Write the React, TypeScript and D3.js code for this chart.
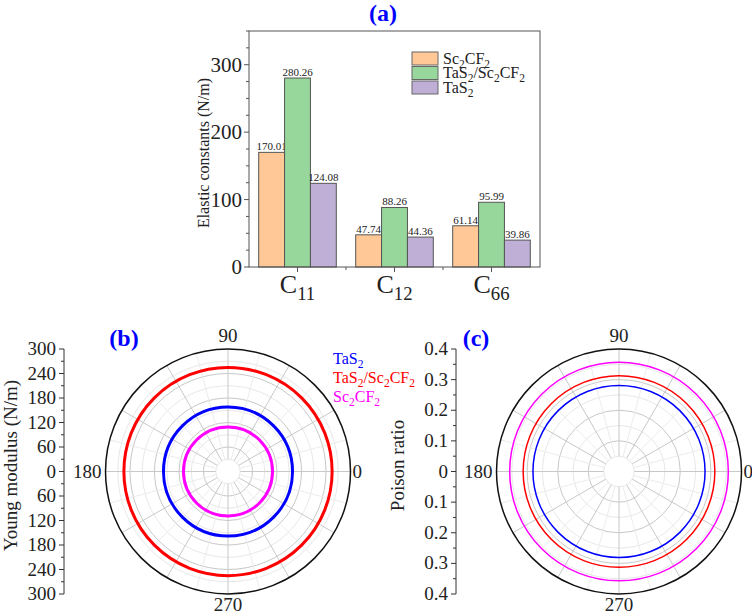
import React from 'react';
import * as d3 from 'd3';

// elastic constants (N/m)
const categories = ['C11', 'C12', 'C66'];
const seriesNames = ['Sc2CF2', 'TaS2/Sc2CF2', 'TaS2'];
const sc2cf2Vals = [170.01, 47.74, 61.14];
const heteroVals = [280.26, 88.26, 95.99];
const tas2Vals = [124.08, 44.36, 39.86];
const barColors = ['#FFC896', '#98D79B', '#BFAFD6'];

// polar panels
const polarNames = ['TaS2', 'TaS2/Sc2CF2', 'Sc2CF2'];
const polarColors = ['#0000ff', '#ff0000', '#ff00ff'];
const youngVals = [158, 255, 109];
const poissonVals = [0.281, 0.313, 0.357];
const youngTicks = [300, 240, 180, 120, 60, 0, 60, 120, 180, 240, 300];
const poissonTicks = ['0.4', '0.3', '0.2', '0.1', '0', '0.1', '0.2', '0.3', '0.4'];
const angleLabels = ['0', '90', '180', '270'];

const font = "'Liberation Serif', 'Times New Roman', serif";
const blue = '#0000ff';

// digits drawn as subscripts
function sub(s: string, fs: number) {
  const parts = s.split(/(\d+)/).filter((p) => p !== '');
  let low = false;
  return parts.map((p, i) => {
    const isNum = /^\d+$/.test(p);
    let dy = 0;
    if (isNum && !low) { dy = fs * 0.28; low = true; }
    else if (!isNum && low) { dy = -fs * 0.28; low = false; }
    return (
      <tspan key={i} dy={dy} fontSize={isNum ? fs * 0.72 : fs}>
        {p}
      </tspan>
    );
  });
}

function BarPanel() {
  const left = 249, right = 540, top = 31, bottom = 267;
  const x0 = d3.scaleBand().domain(categories).range([left, right]).paddingInner(0.2).paddingOuter(0.1);
  const x1 = d3.scaleBand().domain(seriesNames).range([0, x0.bandwidth()]);
  const y = d3.scaleLinear().domain([0, 350]).range([bottom, top]);
  const table = [sc2cf2Vals, heteroVals, tas2Vals];
  const step = x0.step();
  return (
    <g fontFamily={font}>
      <text x={383} y={21} textAnchor="middle" fontSize={24} fontWeight="bold" fill={blue}>(a)</text>
      {table.map((vals, si) =>
        categories.map((c, ci) => (
          <g key={c + si}>
            <rect
              x={(x0(c) as number) + (x1(seriesNames[si]) as number)}
              y={y(vals[ci])}
              width={x1.bandwidth()}
              height={bottom - y(vals[ci])}
              fill={barColors[si]}
              stroke="#555"
              strokeWidth={1}
            />
            <text
              x={(x0(c) as number) + (x1(seriesNames[si]) as number) + x1.bandwidth() / 2}
              y={y(vals[ci]) - 2}
              textAnchor="middle"
              fontSize={11}
              fill="#222"
            >
              {vals[ci].toFixed(2)}
            </text>
          </g>
        ))
      )}
      <rect x={left} y={top} width={right - left} height={bottom - top} fill="none" stroke="#555" strokeWidth={1} />
      {d3.range(0, 351, 25).map((v) => (
        <line key={v} x1={left} x2={left - (v % 100 === 0 ? 5 : 3)} y1={y(v)} y2={y(v)} stroke="#555" />
      ))}
      {[0, 100, 200, 300].map((v) => (
        <text key={v} x={left - 7} y={y(v) + 7} textAnchor="end" fontSize={21} fill="#222">{v}</text>
      ))}
      {categories.map((c) => {
        const cx = (x0(c) as number) + x0.bandwidth() / 2;
        return (
          <g key={c}>
            <line x1={cx} x2={cx} y1={bottom} y2={bottom + 5} stroke="#555" />
            <text x={cx} y={293} textAnchor="middle" fontSize={26} fill="#222">{sub(c, 26)}</text>
          </g>
        );
      })}
      {[1, 2].map((i) => (
        <line key={i} x1={left + step * i} x2={left + step * i} y1={bottom} y2={bottom + 3} stroke="#555" />
      ))}
      <text transform={`translate(209,${(top + bottom) / 2 + 4}) rotate(-90)`} textAnchor="middle" fontSize={16} fill="#222">
        Elastic constants (N/m)
      </text>
      {seriesNames.map((n, i) => (
        <g key={n}>
          <rect x={412} y={52 + i * 14.5} width={26} height={13} fill={barColors[i]} stroke="#666" />
          <text x={443} y={63.5 + i * 14.5} fontSize={16} fill="#222">{sub(n, 16)}</text>
        </g>
      ))}
    </g>
  );
}

function PolarPanel(props: {
  cx: number; cy: number; R: number; max: number; major: number;
  vals: number[]; width: number; axisX: number; ticks: (string | number)[];
  ylabel: string; labelX: number; tag: string; tagX: number; legend: boolean;
}) {
  const { cx, cy, R, max, major, vals, width, axisX, ticks, ylabel, labelX, tag, tagX, legend } = props;
  const r = d3.scaleLinear().domain([0, max]).range([0, R]);
  const half = major / 2;
  const rings = d3.range(1, Math.round(max / half)).map((k) => k * half);
  const ay = d3.scaleLinear().domain([-max, max]).range([cy + R, cy - R]);
  const minorTicks = d3.range(-max, max + half / 2, half);
  const spokes = d3.range(0, 360, 15);
  return (
    <g fontFamily={font}>
      <text x={tagX} y={346} textAnchor="middle" fontSize={24} fontWeight="bold" fill={blue}>{tag}</text>
      {rings.map((v, i) => (
        <circle key={v} cx={cx} cy={cy} r={r(v)} fill="none" stroke={i % 2 === 1 ? '#c8c8c8' : '#e8e8e8'} strokeWidth={1} />
      ))}
      {spokes.map((a) => {
        const t = (a * Math.PI) / 180;
        const r0 = r(half);
        return (
          <line
            key={a}
            x1={cx + r0 * Math.cos(t)} y1={cy - r0 * Math.sin(t)}
            x2={cx + R * Math.cos(t)} y2={cy - R * Math.sin(t)}
            stroke={a % 30 === 0 ? '#c8c8c8' : '#ececec'}
            strokeWidth={1}
          />
        );
      })}
      {vals.map((v, i) => (
        <circle key={i} cx={cx} cy={cy} r={r(v)} fill="none" stroke={polarColors[i]} strokeWidth={width} />
      ))}
      <circle cx={cx} cy={cy} r={R} fill="none" stroke="#111" strokeWidth={1.5} />
      {angleLabels.map((l) => {
        const t = (+l * Math.PI) / 180;
        const d = l === '0' ? R + 2 : R + 4;
        const px = cx + d * Math.cos(t);
        const py = cy - d * Math.sin(t);
        const anchor = l === '0' ? 'start' : l === '180' ? 'end' : 'middle';
        const dy = l === '90' ? -3 : l === '270' ? 13 : 6;
        return (
          <text key={l} x={px} y={py + dy} textAnchor={anchor} fontSize={19} fill="#222">{l}</text>
        );
      })}
      <line x1={axisX} x2={axisX} y1={ay(max)} y2={ay(-max)} stroke="#333" strokeWidth={1} />
      {minorTicks.map((v, i) => (
        <line key={i} x1={axisX} x2={axisX - (i % 2 === 0 ? 5 : 3)} y1={ay(v)} y2={ay(v)} stroke="#333" />
      ))}
      {ticks.map((t, i) => (
        <text key={i} x={axisX - 8} y={ay(max - i * major) + 6} textAnchor="end" fontSize={19} fill="#222">{t}</text>
      ))}
      <text transform={`translate(${labelX},${cy - 6}) rotate(-90)`} textAnchor="middle" fontSize={19} fill="#222">
        {ylabel}
      </text>
      {legend &&
        polarNames.map((n, i) => (
          <text key={n} x={333} y={364 + i * 19} fontSize={16} fill={polarColors[i]}>{sub(n, 16)}</text>
        ))}
    </g>
  );
}

export default function App() {
  return (
    <svg width={752} height={615} style={{ position: 'absolute', left: 0, top: 0, background: '#fff' }}>
      <BarPanel />
      <PolarPanel
        cx={228} cy={471.5} R={122.5} max={300} major={60}
        vals={youngVals} width={3} axisX={64} ticks={youngTicks}
        ylabel="Young modulus (N/m)" labelX={17} tag="(b)" tagX={124} legend={true}
      />
      <PolarPanel
        cx={619} cy={471.5} R={122.5} max={0.4} major={0.1}
        vals={poissonVals} width={1.5} axisX={456} ticks={poissonTicks}
        ylabel="Poison ratio" labelX={404} tag="(c)" tagX={476} legend={false}
      />
    </svg>
  );
}
